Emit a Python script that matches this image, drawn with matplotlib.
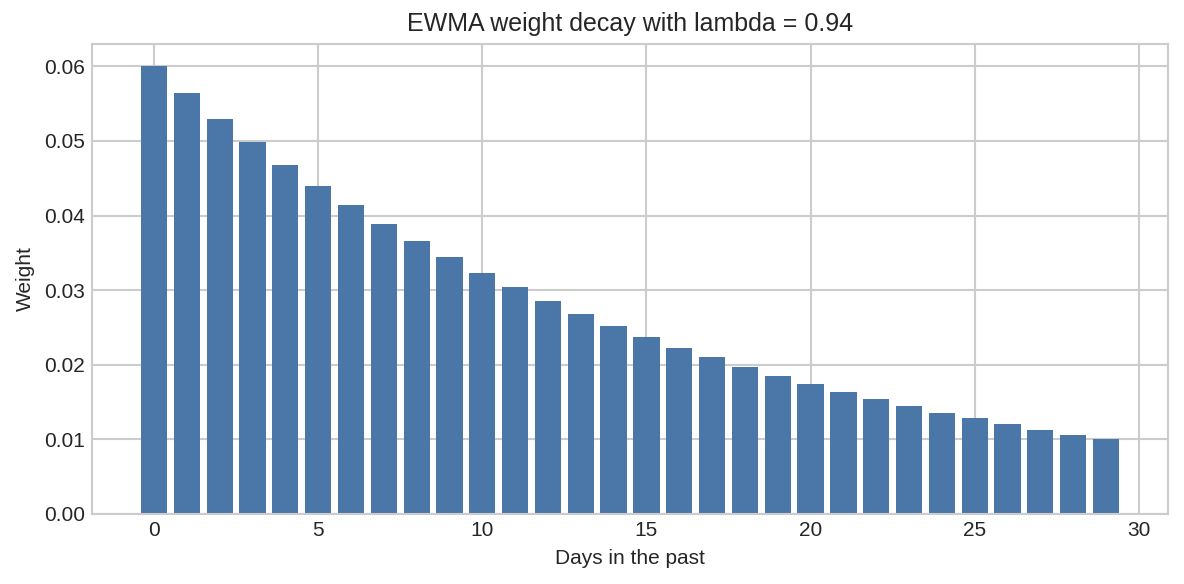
import numpy as np
import matplotlib
matplotlib.use("Agg")
import matplotlib.pyplot as plt

days = list(range(30))
weights = [0.0600, 0.0564, 0.0530, 0.0498, 0.0468, 0.0440, 0.0414, 0.0389,
           0.0366, 0.0344, 0.0323, 0.0304, 0.0285, 0.0268, 0.0252, 0.0237,
           0.0223, 0.0210, 0.0197, 0.0185, 0.0174, 0.0164, 0.0154, 0.0145,
           0.0136, 0.0128, 0.0120, 0.0113, 0.0106, 0.0100]

plt.style.use("seaborn-v0_8-whitegrid")
plt.rcParams['font.family'] = ['Liberation Sans', 'DejaVu Sans']

fig = plt.figure(figsize=(1184 / 150, 584 / 150), dpi=150)
ax = fig.add_axes([0.0777, 0.1199, 0.9088, 0.8048])
ax.bar(days, weights, color="#4a77a8", zorder=2)
ax.set_title("EWMA weight decay with lambda = 0.94", fontsize=12, color="#262626")
ax.set_xlabel("Days in the past", fontsize=10, color="#262626")
ax.set_ylabel("Weight", fontsize=10, color="#262626")
ax.tick_params(labelsize=10, colors="#262626")
for s in ax.spines.values():
    s.set_visible(True)
    s.set_color("#cccccc")
    s.set_linewidth(1.0)
ax.grid(True, color="#cccccc", linewidth=1.0)

fig.savefig("out.png", dpi=150)
